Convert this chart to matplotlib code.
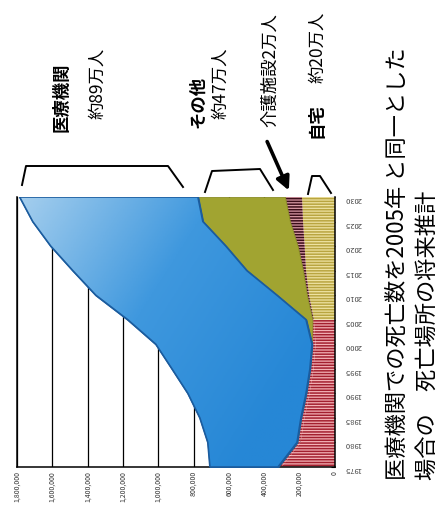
import numpy as np
import matplotlib
matplotlib.use("Agg")
import matplotlib.pyplot as plt
from matplotlib.colors import LinearSegmentedColormap
from matplotlib.lines import Line2D
from matplotlib.patches import FancyArrowPatch
from matplotlib.ticker import FuncFormatter

plt.rcParams['font.family'] = ['Noto Sans CJK JP', 'DejaVu Sans']
plt.rcParams['hatch.linewidth'] = 1.1

# ---- data (deaths by place) ----
years = [1975, 1980, 1985, 1990, 1995, 2000, 2005, 2010, 2015, 2020, 2025, 2030]
home = [303000, 195000, 173000, 144000, 122000, 110000, 120000, 147000, 164000, 172000, 181000, 187000]
care = [20000, 20000, 20000, 20000, 20000, 20000, 8000, 12000, 17000, 39000, 74000, 96000]
other = [0, 0, 0, 0, 0, 0, 36000, 170000, 318000, 407000, 493000, 493000]
hospital = [385000, 505000, 572000, 669000, 781000, 884000, 1009000, 1025000, 985000, 991000, 963000, 1009000]

value_ticks = [0, 200000, 400000, 600000, 800000, 1000000, 1200000, 1400000, 1600000, 1800000]
year_ticks = [1975, 1980, 1985, 1990, 1995, 2000, 2005, 2010, 2015, 2020, 2025, 2030]

title1 = "医療機関での死亡数を2005年 と同一とした"
title2 = "場合の　死亡場所の将来推計"

W, H = 446, 506
fig = plt.figure(figsize=(W / 100, H / 100), dpi=100)
ax = fig.add_axes([17 / W, (H - 468) / H, (335 - 17) / W, (468 - 198) / H])

yr = np.array(years)
c1 = np.array(home)
c2 = c1 + np.array(care)
c3 = c2 + np.array(other)
c4 = c3 + np.array(hospital)

split = years.index(2005)

# home + care, red stripes up to 2005
ax.fill_betweenx(yr[:split + 1], 0, c1[:split + 1], facecolor='#f3b3b6',
                 edgecolor='#a3202f', hatch='------', lw=0, zorder=2)
ax.fill_betweenx(yr[:split + 1], c1[:split + 1], c2[:split + 1], facecolor='#f3b3b6',
                 edgecolor='#a3202f', hatch='------', lw=0, zorder=2)
# after 2005: home yellow stripes, care dark stripes
ax.fill_betweenx(yr[split:], 0, c1[split:], facecolor='#eee2a2',
                 edgecolor='#b9a540', hatch='------', lw=0, zorder=2)
ax.fill_betweenx(yr[split:], c1[split:], c2[split:], facecolor='#d89aa6',
                 edgecolor='#3a0c18', hatch='------', lw=0, zorder=2)
# other (green)
ax.fill_betweenx(yr, c2, c3, facecolor='#a1a431', edgecolor='#8a8c25', lw=0.6, zorder=3)
# hospital (blue with light gradient)
blue = ax.fill_betweenx(yr, c3, c4, facecolor='#3a94dc', edgecolor='#1b5c9e',
                        lw=1.2, zorder=4)
gx, gy = np.meshgrid(np.linspace(0, 1, 200), np.linspace(0, 1, 200))
grad = gx * 0.65 + gy * 0.35
cmap = LinearSegmentedColormap.from_list('b', ['#2687d6', '#3f98de', '#a6cfee'])
im = ax.imshow(grad, extent=[0, 1800000, 1975, 2030], origin='lower',
               cmap=cmap, aspect='auto', zorder=4.5, vmin=0.2, vmax=1.0)
im.set_clip_path(blue.get_paths()[0], transform=ax.transData)
ax.fill_betweenx(yr, c3, c4, facecolor='none', edgecolor='#1b5c9e', lw=1.2, zorder=5)

ax.set_xlim(1800000, 0)
ax.set_ylim(1975, 2030)

ax.set_xticks(value_ticks)
ax.xaxis.set_major_formatter(FuncFormatter(lambda v, p: f"{int(v):,}"))
ax.tick_params(axis='x', length=0, labelsize=5, labelrotation=90, pad=2,
               labelcolor='#333333')
ax.grid(axis='x', color='black', lw=0.9)
ax.set_axisbelow(True)

ax.yaxis.tick_right()
ax.set_yticks(year_ticks)
ax.tick_params(axis='y', direction='in', length=3, labelsize=5.5, labelrotation=180,
               pad=7, labelcolor='#444444')

ax.spines['top'].set_visible(False)
for s in ['left', 'bottom', 'right']:
    ax.spines[s].set_color('black')
    ax.spines[s].set_linewidth(1.1)


def fx(x):
    return x / W


def fy(y):
    return 1 - y / H


def label(x, y, s, **kw):
    fig.text(fx(x), fy(y), s, rotation=90, ha='center', va='center', **kw)


label(62, 97, "医療機関", fontsize=12.5, fontweight='bold')
label(97, 83, "約89万人", fontsize=12.5)
label(198, 102, "その他", fontsize=12.5, fontweight='bold')
label(220, 83, "約47万人", fontsize=12.5)
label(270, 70, "介護施設2万人", fontsize=12.5)
label(317, 121, "自宅", fontsize=12.5, fontweight='bold')
label(317, 47, "約20万人", fontsize=12.5)

brackets = [
    [(22, 186), (26, 167), (168, 167), (183, 188)],
    [(205, 193), (212, 172), (260, 170), (273, 191)],
    [(308, 195), (312, 177), (320, 177), (331, 194)],
]
for pts in brackets:
    fig.add_artist(Line2D([fx(p[0]) for p in pts], [fy(p[1]) for p in pts],
                          color='black', lw=1.4, transform=fig.transFigure))

fig.add_artist(FancyArrowPatch((fx(266), fy(140)), (fx(290), fy(194)),
                               transform=fig.transFigure, arrowstyle='-|>',
                               mutation_scale=20, lw=2.6, color='black'))

fig.text(fx(397), fy(480), title1, rotation=90, ha='center', va='bottom', fontsize=16)
fig.text(fx(427), fy(480), title2, rotation=90, ha='center', va='bottom', fontsize=16)

fig.savefig("out.png", dpi=100)
